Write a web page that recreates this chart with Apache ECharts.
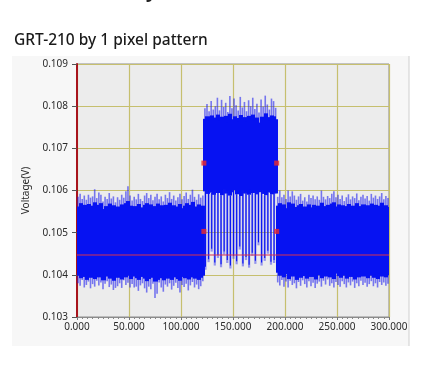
<!DOCTYPE html>
<html><head><meta charset="utf-8">
<script src="https://cdn.jsdelivr.net/npm/echarts@6/dist/echarts.min.js"></script>
<style>html,body{margin:0;padding:0;background:#fff}#c{width:429px;height:377px}</style>
</head><body><div id="c"></div>
<script>
// ---- data (voltages in mV, converted to V only for tick labels) ----
const titleText = 'GRT-210 by 1 pixel pattern';
const yName = 'Voltage(V)';
const xTicks = [0, 50, 100, 150, 200, 250, 300];
const yTicks = [103, 104, 105, 106, 107, 108, 109];
const sampleStep = 2;
// segment A: t = 0 .. 120
const aStart = 0;
const aUpperSpike = [105.85,105.92,105.80,105.88,105.78,105.90,105.83,105.86,106.03,105.82,
105.95,105.90,105.74,105.85,105.80,105.94,105.81,105.86,105.72,105.84,
105.78,105.90,105.83,105.98,106.10,105.88,105.76,105.85,105.79,105.92,
105.80,105.75,105.88,105.94,105.82,105.90,105.77,105.85,105.92,105.79,
105.86,105.74,105.90,105.82,105.96,105.80,105.88,105.76,105.84,105.92,
105.79,105.87,105.95,105.80,105.90,106.02,105.85,105.78,105.91,105.83,105.88];
const aUpperCore = [105.62,105.70,105.58,105.66,105.55,105.68,105.60,105.64,105.72,105.59,
105.66,105.70,105.56,105.63,105.60,105.69,105.58,105.65,105.54,105.62,
105.57,105.67,105.61,105.70,105.75,105.64,105.56,105.63,105.58,105.68,
105.60,105.55,105.66,105.70,105.61,105.67,105.57,105.63,105.69,105.58,
105.65,105.54,105.66,105.60,105.71,105.59,105.65,105.56,105.62,105.68,
105.58,105.64,105.70,105.60,105.66,105.73,105.62,105.57,105.67,105.61,105.64];
const aLowerCore = [103.98,103.92,104.02,103.95,103.88,104.00,103.93,103.97,103.90,104.03,
103.94,103.99,103.87,103.96,104.01,103.91,103.95,103.86,104.00,103.93,
103.97,103.89,104.02,103.94,103.98,103.90,103.96,104.01,103.92,103.88,
103.95,103.99,103.91,103.85,103.90,103.93,103.97,103.84,103.88,104.00,
103.92,103.87,103.96,103.91,103.98,103.88,103.94,103.99,103.90,103.86,
103.95,103.92,103.97,103.89,103.94,104.00,103.91,103.96,103.88,103.93,103.98];
const aLowerSpike = [103.80,103.74,103.88,103.70,103.76,103.84,103.68,103.78,103.72,103.86,
103.75,103.82,103.66,103.79,103.85,103.71,103.77,103.64,103.69,103.73,
103.80,103.69,103.87,103.76,103.81,103.70,103.78,103.70,103.72,103.62,
103.75,103.80,103.68,103.58,103.72,103.66,103.79,103.45,103.55,103.82,
103.70,103.60,103.77,103.72,103.80,103.65,103.74,103.81,103.69,103.58,
103.76,103.71,103.79,103.63,103.75,103.83,103.70,103.77,103.66,103.73,103.85];
// segment B (high level band): t = 122 .. 190
const bStart = 122;
const bUpperSpike = [107.95,108.05,107.88,108.12,107.92,108.00,108.20,107.90,108.15,107.98,
108.08,107.86,108.24,107.95,108.18,108.02,107.90,108.22,107.97,108.10,
107.88,108.14,108.00,108.20,107.93,108.06,107.85,108.16,107.99,108.25,
108.04,107.92,108.18,108.12,107.96];
const bUpperCore = [107.70,107.76,107.66,107.78,107.68,107.73,107.80,107.65,107.75,107.70,
107.77,107.62,107.82,107.69,107.76,107.72,107.64,107.79,107.70,107.74,
107.63,107.77,107.71,107.80,107.67,107.73,107.61,107.75,107.70,107.83,
107.74,107.66,107.78,107.76,107.69];
const bLowerCore = [105.98,105.92,106.02,105.95,105.90,106.00,105.94,105.97,105.89,106.03,
105.93,105.99,105.88,105.96,106.01,105.91,105.95,105.87,106.00,105.93,
105.97,105.90,106.02,105.94,105.98,105.91,105.96,106.01,105.92,105.89,
105.95,105.99,105.91,105.97,105.93];
// pattern lines below the band
const bLineStart = 123.5;
const bLineStep = 3;
const bLineBottom = [104.12,104.30,104.55,104.22,104.40,104.18,104.48,104.28,104.15,104.38,
104.25,104.60,104.20,104.35,104.17,104.45,104.26,104.70,104.22,104.33,104.50,104.24,104.28];
// segment C: t = 192 .. 298
const cStart = 192;
const cUpperSpike = [105.85,106.00,105.84,105.90,105.80,106.00,105.86,105.98,105.88,105.78,
105.86,105.92,105.76,105.84,105.74,105.90,105.82,105.88,105.79,105.86,
105.78,106.00,105.85,105.79,105.87,105.82,105.92,105.98,105.84,105.90,
105.80,105.88,105.75,105.84,105.91,105.79,105.86,105.82,105.93,105.77,
105.85,105.90,105.81,105.87,105.76,105.92,105.83,105.88,105.80,105.86,
105.94,105.79,105.87,105.82];
const cUpperCore = [105.64,105.70,105.60,105.67,105.58,105.72,105.63,105.69,105.61,105.56,
105.65,105.68,105.57,105.62,105.55,105.67,105.60,105.66,105.58,105.64,
105.57,105.71,105.63,105.58,105.66,105.61,105.69,105.72,105.62,105.67,
105.59,105.65,105.55,105.63,105.68,105.58,105.64,105.60,105.70,105.57,
105.63,105.67,105.60,105.65,105.56,105.69,105.62,105.66,105.59,105.64,
105.71,105.58,105.65,105.61];
const cLowerCore = [104.05,103.98,104.08,103.94,104.02,103.90,104.06,103.96,104.03,103.88,
104.00,103.93,104.07,103.97,103.91,104.04,103.95,104.01,103.89,103.99,
104.05,103.92,104.02,103.96,104.08,103.94,104.00,103.90,104.03,103.97,
103.93,104.06,103.98,103.91,104.02,103.95,104.04,103.89,104.00,103.94,
104.07,103.96,104.01,103.92,103.98,104.05,103.93,104.00,103.90,104.03,
103.96,104.02,103.94,103.99];
const cLowerSpike = [103.82,103.75,103.88,103.72,103.84,103.70,103.86,103.76,103.80,103.68,
103.83,103.74,103.87,103.78,103.70,103.85,103.73,103.81,103.69,103.79,
103.84,103.72,103.86,103.77,103.89,103.74,103.80,103.70,103.83,103.76,
103.72,103.85,103.78,103.70,103.82,103.75,103.84,103.69,103.80,103.73,
103.86,103.76,103.81,103.72,103.78,103.85,103.73,103.80,103.70,103.83,
103.76,103.82,103.74,103.79];
// cursor line and markers
const cursorLevel = [104.47];
const markerPoints = [[122, 106.65], [192, 106.65], [122, 105.03], [192, 105.03]];

// ---- build mark tables ----
const spikeData = [], coreData = [], lineData = [];
function addSeg(start, up, uc, lc, lo) {
  for (let i = 0; i < up.length; i++) {
    const t = start + i * sampleStep;
    spikeData.push([t, t + sampleStep, lo ? lo[i] : lc[i], up[i]]);
    coreData.push([t, t + sampleStep, lc[i], uc[i]]);
  }
}
addSeg(aStart, aUpperSpike, aUpperCore, aLowerCore, aLowerSpike);
addSeg(bStart, bUpperSpike, bUpperCore, bLowerCore, null);
addSeg(cStart, cUpperSpike, cUpperCore, cLowerCore, cLowerSpike);
for (let i = 0; i < bLineBottom.length; i++) {
  const t = bLineStart + i * bLineStep;
  lineData.push([t, t, bLineBottom[i], bLowerCore[Math.min(bLowerCore.length - 1, Math.floor((t - bStart) / sampleStep))]]);
}

const BLUE = '#0612f2';
function rectRender(mode) {
  return function (params, api) {
    const p0 = api.coord([api.value(0), api.value(3)]);
    const p1 = api.coord([api.value(1), api.value(2)]);
    const h = p1[1] - p0[1];
    if (mode === 'core') {
      const x0 = Math.floor(p0[0]);
      const x1 = Math.ceil(p1[0]) + 1;
      return {type: 'rect', shape: {x: x0, y: p0[1], width: x1 - x0, height: h},
        style: {fill: BLUE, stroke: null}};
    }
    if (mode === 'spike') {
      const cx = (p0[0] + p1[0]) / 2;
      return {type: 'rect', shape: {x: cx - 0.8, y: p0[1], width: 1.6, height: h},
        style: {fill: 'rgba(20,20,240,0.55)'}};
    }
    // pattern line
    return {type: 'group', children: [
      {type: 'rect', shape: {x: p0[0] - 1.1, y: p0[1], width: 2.2, height: h}, style: {fill: 'rgba(40,40,240,0.45)'}},
      {type: 'rect', shape: {x: p0[0] - 0.55, y: p0[1], width: 1.1, height: h - 3}, style: {fill: BLUE}}
    ]};
  };
}

const fontFam = '"Noto Sans", "Liberation Sans", sans-serif';
const chart = echarts.init(document.getElementById('c'), null, {renderer: 'canvas'});
chart.setOption({
  animation: false,
  backgroundColor: '#ffffff',
  graphic: [
    {type: 'rect', z: -10, shape: {x: 12, y: 56, width: 397, height: 290}, style: {fill: '#f7f7f7'}},
    {type: 'line', z: -9, shape: {x1: 409, y1: 56, x2: 409, y2: 346}, style: {stroke: '#cfcfcf', lineWidth: 1}},
    {type: 'text', left: 14, top: 33, style: {text: titleText, font: '500 15.5px "Noto Sans", sans-serif', fill: '#1a1a1a'}},
    {type: 'text', x: 146, y: -19, style: {text: 'y', font: '600 20px "Noto Sans", sans-serif', fill: '#222'}}
  ],
  grid: {left: 77, right: 40, top: 64, bottom: 60, show: true, backgroundColor: '#ececec', borderColor: '#8c8c8c', borderWidth: 1},
  xAxis: {
    type: 'value', min: xTicks[0], max: xTicks[xTicks.length - 1], interval: 50,
    axisLine: {show: true, lineStyle: {color: '#8c8c8c', width: 1}},
    axisTick: {show: true, length: 3, lineStyle: {color: '#777'}},
    minorTick: {show: true, splitNumber: 10, length: 2, lineStyle: {color: '#888'}},
    splitLine: {show: true, lineStyle: {color: '#c6bf6e', width: 1.2}},
    axisLabel: {margin: 5, color: '#2a2a2a', fontSize: 10, fontFamily: fontFam, formatter: v => v.toFixed(3)}
  },
  yAxis: {
    type: 'value', min: yTicks[0], max: yTicks[yTicks.length - 1], interval: 1,
    name: yName, nameLocation: 'middle', nameGap: 41, nameRotate: 90,
    nameTextStyle: {color: '#2a2a2a', fontSize: 10, fontFamily: fontFam},
    axisLine: {show: true, lineStyle: {color: '#a8141c', width: 2}},
    axisTick: {show: true, length: 5, lineStyle: {color: '#555'}},
    splitLine: {show: true, lineStyle: {color: '#c6bf6e', width: 1.2}},
    axisLabel: {margin: 9, color: '#2a2a2a', fontSize: 10, fontFamily: fontFam, formatter: v => (v / 1000).toFixed(3)}
  },
  series: [
    {type: 'custom', z: 2, renderItem: rectRender('spike'), encode: {x: [0, 1], y: [2, 3]}, data: spikeData, clip: true},
    {type: 'custom', z: 3, renderItem: rectRender('core'), encode: {x: [0, 1], y: [2, 3]}, data: coreData, clip: true},
    {type: 'custom', z: 4, renderItem: rectRender('line'), encode: {x: [0, 1], y: [2, 3]}, data: lineData, clip: true},
    {type: 'line', z: 5, symbol: 'none', silent: true,
      data: [[xTicks[0], cursorLevel[0]], [xTicks[xTicks.length - 1], cursorLevel[0]]],
      lineStyle: {color: '#d8304e', width: 1}},
    {type: 'scatter', z: 6, symbol: 'rect', symbolSize: 5, data: markerPoints,
      itemStyle: {color: '#ec2a2a'}}
  ]
});
</script></body></html>
